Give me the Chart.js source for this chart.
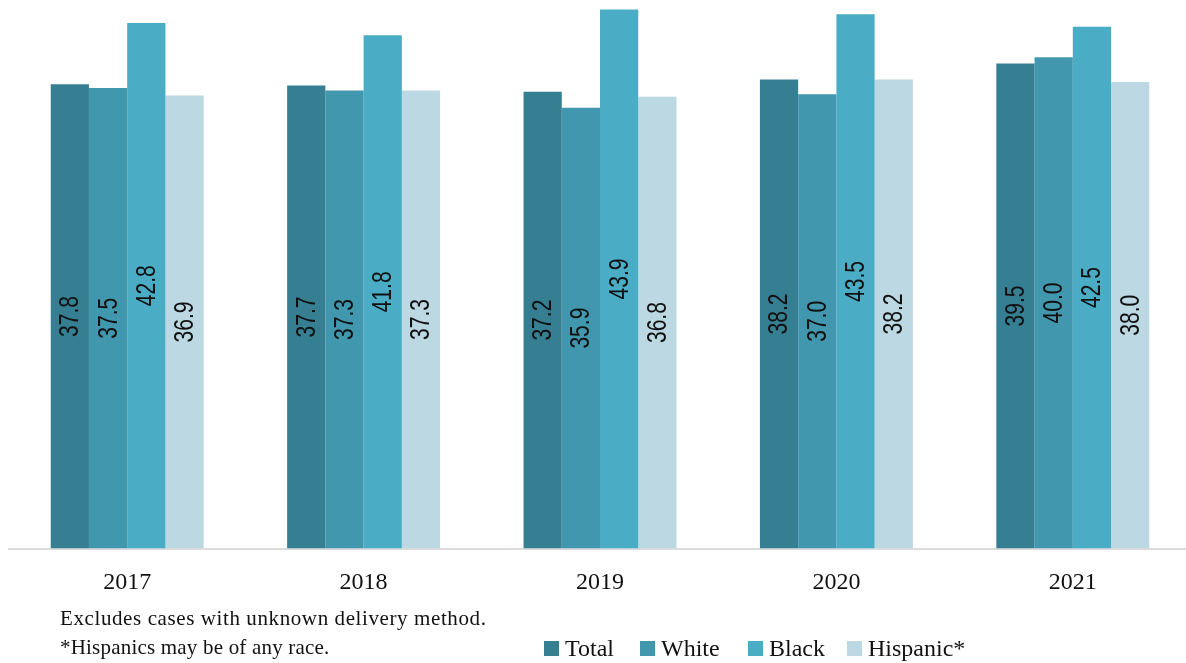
<!DOCTYPE html>
<html>
<head>
<meta charset="utf-8">
<script src="https://cdn.jsdelivr.net/npm/chart.js@4.4.1/dist/chart.umd.min.js"></script>
<style>
  html, body { margin: 0; padding: 0; background: #fff; overflow: hidden; }
  #wrap { position: relative; width: 1186px; height: 663px; overflow: hidden; }
  #chart-box { position: absolute; left: 0; top: 0; width: 1200px; height: 663px; }
  .note { position: absolute; left: 60px; font-family: "Liberation Serif", serif; font-size: 21px; color: #111; white-space: nowrap; }
  .lg-item { position: absolute; top: 635px; display: flex; align-items: center; font-family: "Liberation Serif", serif; font-size: 24px; color: #111; white-space: nowrap; }
  .lg-box { width: 15px; height: 15px; margin-right: 6px; }
</style>
</head>
<body>
<div id="wrap">
  <div id="chart-box"><canvas id="barChart" width="1200" height="663"></canvas></div>
  <div class="note" style="top:606px; letter-spacing:0.6px">Excludes cases with unknown delivery method.</div>
  <div class="note" style="top:635px; letter-spacing:0.2px">*Hispanics may be of any race.</div>
  <div id="legend"></div>
</div>
<script>
const years    = ['2017', '2018', '2019', '2020', '2021'];
const total    = [37.8, 37.7, 37.2, 38.2, 39.5];
const white    = [37.5, 37.3, 35.9, 37.0, 40.0];
const black    = [42.8, 41.8, 43.9, 43.5, 42.5];
const hispanic = [36.9, 37.3, 36.8, 38.2, 38.0];

const seriesNames  = ['Total', 'White', 'Black', 'Hispanic*'];
const seriesColors = ['#367f93', '#4197ad', '#4aadc5', '#bcd8e3'];
const legendLeft   = [544, 640, 748, 847];

// value labels, rotated and centered in each bar
const barLabels = {
  id: 'barLabels',
  afterDatasetsDraw(chart) {
    const ctx = chart.ctx;
    ctx.save();
    ctx.font = '27px "Liberation Sans", sans-serif';
    ctx.fillStyle = '#111';
    ctx.textAlign = 'center';
    ctx.textBaseline = 'middle';
    chart.data.datasets.forEach((ds, i) => {
      chart.getDatasetMeta(i).data.forEach((bar, j) => {
        const cy = (bar.y + bar.base) / 2;
        ctx.save();
        ctx.translate(bar.x, cy);
        ctx.rotate(-Math.PI / 2);
        ctx.scale(0.78, 1);
        ctx.fillText(ds.data[j].toFixed(1), 0, 1);
        ctx.restore();
      });
    });
    ctx.restore();
  }
};

const datasets = [total, white, black, hispanic].map((vals, i) => ({
  label: seriesNames[i],
  data: vals,
  backgroundColor: seriesColors[i],
  borderWidth: 0,
  barPercentage: 1.0,
  categoryPercentage: 0.647
}));

new Chart(document.getElementById('barChart'), {
  type: 'bar',
  data: { labels: years, datasets },
  options: {
    responsive: false,
    animation: false,
    layout: { padding: { left: 9, right: 9, top: 0, bottom: 0 } },
    plugins: { legend: { display: false }, tooltip: { enabled: false } },
    scales: {
      x: {
        grid: { display: false, drawTicks: false },
        border: { display: true, color: '#dcdcdc', width: 2 },
        ticks: { color: '#111', padding: 20, font: { family: '"Liberation Serif", serif', size: 24 } },
        afterFit(s) { s.height = 663 - 548.5; }
      },
      y: { display: false, min: 0, max: 44.67 }
    }
  },
  plugins: [barLabels]
});

// html legend
const legend = document.getElementById('legend');
seriesNames.forEach((n, i) => {
  legend.innerHTML += `<div class="lg-item" style="left:${legendLeft[i]}px"><div class="lg-box" style="background:${seriesColors[i]}"></div>${n}</div>`;
});
</script>
</body>
</html>
